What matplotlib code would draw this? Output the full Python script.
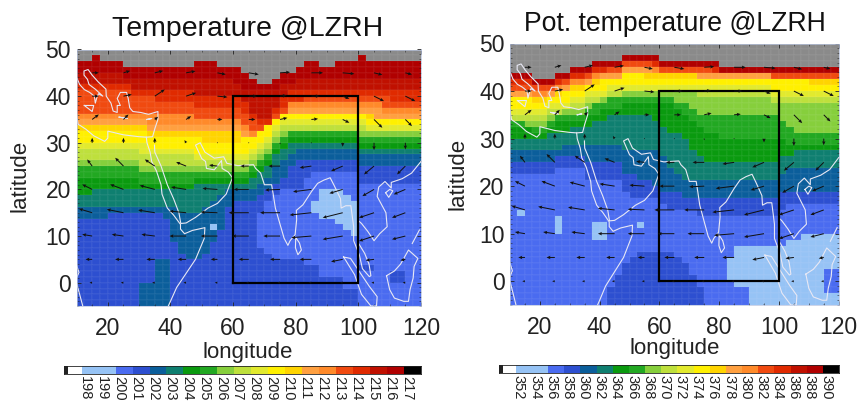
import matplotlib
matplotlib.use('Agg')
import matplotlib.pyplot as plt
from matplotlib.colors import ListedColormap
from matplotlib.ticker import MultipleLocator
import numpy as np

plt.rcParams['font.family'] = ['Liberation Sans', 'DejaVu Sans']

# band colours, cold to warm, same order in both colour bars
band_names = 'abcdefghijklmnopqrx'
band_colors = ['#96C3F5', '#4A6BF0', '#2D4FD0', '#0B5E9B', '#0F7F70', '#0A9A0F',
               '#22A822', '#86CF3C', '#BEE03C', '#E2EA2E', '#FFF000', '#FFD400',
               '#FFA040', '#FF8A2A', '#F04A10', '#E02A00', '#C01000', '#B00000',
               '#8A8A8A']
bar_bands = 'aabcdefghijklmnopqr'
levels_t = list(range(198, 218))
levels_th = list(range(352, 392, 2))

# Row where each band starts, per 2.5 deg column. Rows are 1.25 deg, counted from lat 50.
temp_tops = {
    'r': [2,2,1,2,2, 2,3,3,3,3, 3,3,3,3,3, 2,2,2,3,3, 3,4,5,6,6, 5,4,4,3,2, 2,3,3,2,2, 2,1,2,2,2, 2,2,2,2],
    'q': [4,4,4,4,4, 4,5,5,5,5, 5,5,5,5,5, 5,5,5,5,5, 6,7,7,7,7, 7,6,6,5,5, 5,5,5,5,5, 5,5,5,5,5, 5,5,5,5],
    'p': [6,6,6,6,6, 6,6,7,7,7, 7,7,7,7,7, 8,8,8,8,8, 8,9,11,12,12, 10,8,7,7,7, 7,7,7,7,7, 7,7,7,7,7, 7,7,7,7],
    'o': [7,7,7,7,7, 7,7,8,8,8, 9,9,9,9,9, 10,10,10,10,10, 10,11,12,13,13, 11,10,9,9,8, 8,8,8,8,8, 8,8,8,8,8, 9,9,9,9],
    'n': [11,11,11,11,11, 11,11,11,11,11, 11,11,11,11,11, 12,12,12,12,12, 12,13,14,14,14, 12,11,9,9,9, 9,9,9,9,9, 9,9,9,9,10, 10,10,10,10],
    'm': [12,12,12,12,12, 12,12,12,12,13, 13,13,13,13,13, 13,13,13,13,13, 13,14,15,15,14, 13,12,10,10,10, 10,10,10,10,10, 10,10,10,10,11, 11,11,11,11],
    'l': [13,13,13,13,13, 13,13,13,13,14, 14,14,14,14,14, 14,14,14,14,14, 14,15,16,15,15, 13,12,11,11,11, 11,11,11,11,11, 11,11,11,12,12, 12,12,12,12],
    'k': [14,14,14,14,14, 14,14,14,14,15, 15,15,15,15,15, 15,16,16,16,16, 16,15,15,14,13, 12,11,11,11,11, 11,11,11,11,11, 11,11,12,12,12, 12,12,12,12],
    'j': [16,16,16,16,16, 16,16,16,16,17, 17,17,17,17,17, 18,18,18,18,18, 18,18,17,16,15, 13,12,12,12,12, 12,12,12,12,12, 12,12,13,13,13, 13,13,13,13],
    'i': [17,17,17,17,17, 17,17,17,18,18, 18,18,18,18,18, 19,19,19,19,19, 19,19,18,17,16, 14,13,13,13,13, 13,13,13,13,13, 13,13,14,14,14, 14,14,14,14],
    'h': [19,19,19,19,19, 19,19,19,20,20, 20,20,20,20,20, 20,20,20,20,20, 20,20,19,18,17, 15,14,14,14,14, 14,14,14,14,14, 14,14,14,14,14, 14,14,14,14],
    'g': [20,20,20,20,20, 20,20,20,21,21, 21,21,21,21,21, 21,21,21,21,21, 21,21,20,19,18, 16,15,14,14,14, 14,14,14,14,14, 14,15,15,15,15, 15,15,15,15],
    'f': [22,22,22,22,22, 22,22,22,23,23, 23,23,23,23,23, 22,22,22,22,22, 22,22,21,20,19, 17,16,15,15,15, 15,15,15,15,15, 15,16,16,16,16, 16,16,16,16],
    'e': [25,25,24,24,24, 24,24,24,24,24, 24,24,24,24,24, 23,23,23,23,23, 23,23,22,21,20, 18,17,16,16,16, 16,16,16,16,16, 16,17,17,17,17, 17,17,17,17],
    'd': [27,27,27,27,27, 27,27,27,27,27, 27,27,27,28,28, 28,27,26,25,24, 24,24,24,23,22, 20,19,18,17,17, 17,17,17,17,17, 17,18,18,18,18, 18,18,18,18],
    'c': [29,29,29,29,28, 28,28,28,28,28, 28,29,33,35,36, 36,35,33,31,27, 26,26,26,25,24, 23,22,20,19,19, 19,19,19,19,19, 19,20,20,20,20, 20,20,20,20],
    'b': [99,99,99,99,99, 99,99,99,99,99, 99,99,99,99,99, 99,99,99,99,99, 99,99,99,28,26, 25,24,24,24,22, 21,21,21,21,21, 21,23,23,23,23, 23,23,23,23],
}
temp_low = [99,99,99,99,99, 99,99,99,99,99, 99,99,99,99,99, 99,99,99,99,99, 99,99,99,34,35, 36,36,36,36,37, 37,39,39,39,41, 41,99,99,99,99, 99,99,99,99]
temp_patches = [('d', 10, 12, 36, 40), ('d', 8, 12, 40, 44), ('a', 17, 18, 30, 31),
                ('a', 30, 31, 26, 28), ('a', 31, 34, 24, 29), ('a', 33, 34, 29, 30),
                ('a', 34, 35, 25, 31), ('a', 35, 36, 26, 32),
                ('c', 36, 38, 37, 38), ('c', 40, 42, 38, 40)]

theta_tops = {
    'r': [5,5,5,6,6, 6,5,5,4,4, 4,3,3,3,3, 2,2,2,2,2, 3,3,3,3,3, 3,3,3,4,4, 4,4,4,4,4, 4,4,4,4,4, 4,4,4,4],
    'p': [6,6,6,7,7, 7,6,6,5,5, 5,4,4,4,4, 3,3,3,3,3, 4,4,4,4,4, 4,4,4,5,5, 5,5,5,5,5, 5,5,5,5,5, 5,5,5,5],
    'o': [7,7,7,7,7, 7,7,6,6,6, 5,5,5,4,4, 3,3,3,3,4, 4,4,4,4,4, 4,4,5,5,5, 5,5,5,5,5, 5,5,5,5,5, 5,5,5,5],
    'n': [8,8,8,8,8, 8,7,7,6,6, 6,5,5,5,5, 4,4,4,4,4, 5,5,5,5,5, 5,5,5,5,5, 5,5,5,5,5, 6,6,6,6,6, 6,6,6,6],
    'm': [8,8,8,9,9, 8,8,7,7,7, 6,6,5,5,5, 4,4,4,4,5, 5,5,5,5,5, 5,5,5,5,5, 5,5,5,5,5, 6,6,6,6,6, 6,6,6,6],
    'l': [9,9,9,9,9, 9,8,8,7,7, 7,6,6,6,6, 5,5,5,5,5, 5,5,5,5,5, 6,6,6,6,6, 6,6,6,6,6, 6,6,6,6,6, 6,6,6,6],
    'k': [9,9,9,10,10, 9,9,8,8,8, 7,7,6,6,6, 5,5,5,6,6, 6,6,6,6,6, 6,6,6,6,6, 6,6,6,6,6, 6,6,6,6,6, 7,7,7,7],
    'j': [11,11,11,11,11, 10,10,10,9,9, 8,8,8,7,7, 7,7,7,7,7, 7,7,7,7,7, 7,7,7,7,7, 7,7,7,7,7, 8,8,8,8,8, 8,8,8,8],
    'i': [12,12,12,12,12, 11,11,11,10,10, 9,9,9,8,8, 8,8,8,8,8, 8,8,8,8,8, 8,8,8,8,8, 8,8,8,8,8, 9,9,9,9,9, 9,9,9,9],
    'h': [13,13,13,13,13, 12,12,11,11,11, 10,10,9,9,9, 8,8,8,8,8, 8,8,8,8,8, 9,9,9,9,9, 9,9,9,9,9, 10,10,10,10,10, 10,10,10,10],
    'g': [13,13,14,14,14, 13,12,12,12,12, 11,10,10,9,9, 9,9,9,9,9, 9,9,10,10,11, 12,12,12,12,12, 12,12,12,12,12, 12,13,14,15,15, 15,15,15,15],
    'f': [14,14,14,15,15, 14,13,13,13,13, 12,12,11,11,11, 10,10,10,10,10, 10,10,11,12,13, 14,15,15,16,16, 16,16,16,16,16, 16,16,17,17,17, 17,17,17,17],
    'e': [16,16,16,16,16, 15,15,15,14,14, 14,13,13,12,12, 12,12,12,12,13, 14,15,15,16,18, 19,20,20,20,20, 20,20,20,20,20, 20,19,19,18,18, 18,18,18,18],
    'd': [18,18,18,18,18, 18,18,17,17,17, 17,17,17,17,17, 18,18,18,18,18, 19,21,22,23,23, 23,23,23,23,23, 23,23,23,23,23, 23,22,21,21,21, 21,21,21,21],
    'c': [20,20,20,20,20, 20,19,19,19,19, 20,20,20,20,20, 22,22,23,23,24, 25,25,25,26,26, 26,26,26,26,26, 26,26,26,26,26, 26,25,25,25,25, 25,25,25,25],
    'b': [22,22,22,22,22, 22,21,21,21,21, 23,23,23,23,23, 25,26,26,26,26, 27,28,28,28,28, 29,29,29,29,29, 29,29,29,29,29, 29,28,27,27,27, 27,27,27,27],
    'a': [99,99,99,99,99, 99,99,99,99,99, 99,99,99,99,99, 99,99,99,99,99, 99,99,99,99,99, 99,99,99,99,36, 34,34,34,34,34, 34,34,33,33,32, 32,32,32,32],
}
theta_low = [99,99,99,99,99, 99,99,99,99,99, 99,99,99,41,39, 37,36,35,35,35, 35,35,36,37,39, 41,99,99,99,99, 99,99,99,99,99, 99,99,99,99,99, 99,99,99,99]
theta_patches = [('b', 29, 30, 40, 44), ('b', 30, 32, 41, 44), ('b', 42, 44, 38, 42),
                 ('a', 1, 2, 28, 29), ('a', 6, 7, 29, 32), ('a', 11, 13, 30, 33),
                 ('a', 17, 18, 30, 31)]

# wind arrows, 10 deg apart, in reference pixels
wind_lons = [15, 25, 35, 45, 55, 65, 75, 85, 95, 105, 115]
wind_lats = [50, 45, 40, 35, 30, 25, 20, 15, 10, 5, 0, -5]
wind_u = [[2, 2, 3, 3, 3, 4, 4, 4, 4, 3, 2],
          [20, 20, 25, 28, 25, 30, 30, 35, 35, 25, 20],
          [20, 25, 30, 30, 30, 25, 20, 25, 20, 30, 30],
          [20, 15, 10, 15, 15, 20, 22, 20, 20, 25, 20],
          [0, 0, 0, -5, 2, 2, 0, 0, 0, 0, 0],
          [-15, -25, -30, -30, -25, -25, -35, -35, -35, -30, -25],
          [-30, -40, -45, -45, -45, -45, -45, -55, -40, -35, -35],
          [-40, -50, -50, -50, -50, -60, -60, -65, -60, -45, -40],
          [-30, -35, -40, -50, -50, -50, -50, -60, -60, -45, -40],
          [-20, -25, -25, -25, -20, -30, -30, -35, -35, -25, -15],
          [-8, -8, -8, -8, -8, -8, -8, -8, -8, -8, -8],
          [-3, -3, -3, -3, -3, -3, -3, -3, -3, -3, -3]]
wind_v = [[0, 0, 0, 0, 0, 0, 0, 0, 0, 0, 0],
          [0, 6, 6, 5, -5, -5, 2, 0, -3, -6, -5],
          [0, 5, 20, 10, -3, 0, 2, 0, -8, -15, -15],
          [15, 15, 8, 10, 0, 0, 5, 2, -10, -25, -20],
          [15, 15, 15, 8, 0, 0, -5, 0, -12, -22, -20],
          [20, 25, 20, 12, 3, 0, 0, -5, -15, -25, -25],
          [15, 15, 12, 7, 3, 0, -2, -7, -12, -20, -15],
          [12, 10, 8, 5, 2, 0, 0, -7, -15, -15, -15],
          [5, 5, 5, 0, 0, 0, 0, -5, -10, -15, -10],
          [0, 0, 0, 0, 0, 0, 0, 0, -7, -3, -3],
          [0, 0, 0, 0, 0, 0, 0, 0, 0, 0, 0],
          [0, 0, 0, 0, 0, 0, 0, 0, 0, 0, 0]]

# coastlines (lon, lat)
coast_lines = [
    [(10.2, 43.8), (11, 42.5), (12.5, 41.4), (14.2, 40.8), (15.7, 40), (16, 38.5), (16.5, 39.7), (17, 40.5),
     (18.4, 40), (16, 41.5), (14, 42.5), (13.5, 43.6), (12.4, 44.5), (12.4, 45.4), (13.7, 45.7), (15, 44.5),
     (17, 43), (19.4, 41.5), (19.5, 40), (21, 38.5), (21.7, 36.8), (23, 36.5), (23, 38), (24, 38), (23, 39.5),
     (24, 40.8), (26, 40.8), (26.5, 39.5), (27, 37.5), (28, 36.7), (30.5, 36.5), (33, 36.1), (36, 36.7), (36, 35),
     (35, 33), (34.3, 31.3), (32.3, 31.2), (30, 31.3), (25, 31.7), (20, 32.5), (20, 31), (19, 30.3), (15.5, 31.5),
     (13, 32.9), (10.5, 34), (10, 36)],
    [(12.5, 38), (15.5, 38), (15, 36.7), (12.5, 38)],
    [(23.6, 35.5), (26.2, 35.2), (23.6, 35.5)],
    [(32.5, 35), (34, 35.2), (32.5, 35)],
    [(32.3, 31.2), (32.5, 30), (33.5, 28), (34, 26), (35.5, 24), (37, 21), (37.3, 19), (39, 16), (41, 14.5),
     (43.2, 12.5), (43.2, 11.5), (44.5, 10.5), (47, 11.2), (51, 11.8), (50.8, 9.5), (48, 5), (45, 2), (42, -1),
     (40, -4), (39.3, -5)],
    [(34.9, 29.5), (35, 28), (37, 25), (39, 21), (41, 18), (42.7, 15), (43.3, 12.7), (45, 12.8), (48, 14), (52, 16),
     (55, 17), (57.8, 19), (59.8, 22.5), (58.5, 23.7), (56.5, 24.5), (56.3, 26.2), (54, 24.2), (51.5, 24.5),
     (51.2, 26), (50, 26.6), (48, 29.5), (49.5, 30), (51, 28), (54, 26.7), (57, 27), (58, 25.6), (61.5, 25.1),
     (66.5, 25.3), (67.2, 24.5), (68.8, 23.5), (70, 21), (72.3, 21), (72.8, 19), (73.5, 16), (75, 12.5), (76.3, 9.5),
     (77.5, 8), (78.2, 9), (79.8, 10.3), (80.3, 13.5), (80.2, 15.5), (82.3, 16.7), (85, 19.5), (87, 21.3), (89, 22),
     (91, 22.5), (92.3, 20.8), (94.3, 18), (94.5, 16), (96, 16.5), (97.6, 16.5), (98.5, 12), (98.5, 9), (100.3, 6),
     (101.3, 3), (103.5, 1.3), (104, 1.5), (103.4, 4), (102, 6.3), (100, 8.5), (100, 13.3), (101, 12.7), (103, 11),
     (105, 9), (106.8, 10.5), (109.2, 12), (108.8, 15), (106, 18.5), (106.5, 20.5), (108.5, 21.7), (110.5, 20.3),
     (110.5, 21.5), (114, 22.3), (117, 23.5), (120, 26)],
    [(80, 9.7), (81.2, 8.5), (81.8, 7), (80.7, 6), (79.9, 7.5), (80, 9.7)],
    [(95.3, 5.5), (97.5, 5.2), (100.5, 2.2), (103.5, -0.8), (106, -3), (105.8, -5), (104, -5), (101, -2.5),
     (98.8, 1.7), (95.3, 5.5)],
    [(109, 1.5), (111.5, 2.5), (113.5, 4), (116, 7), (119, 5.2), (117.8, 3.5), (117.5, 1), (116.5, -1.5), (116, -4),
     (114.5, -4), (111.5, -3.3), (110, -1.5), (109, 1.5)],
    [(108.7, 19.3), (110, 20), (111, 19.7), (109.7, 18.3), (108.7, 19.3)],
    [(117.2, 8.4), (119.5, 11.3)],
    [(120, 16), (120, 18)],
    [(10, 3.8), (10.8, 2.2), (10, 1), (10, 0), (11, -2.5), (12, -5)],
]

W, H = 857, 405
lon_edges = np.arange(10, 120.1, 2.5)
lat_edges = np.arange(50, -5.1, -1.25)
cmap = ListedColormap(band_colors)


def px_axes(x0, x1, y0, y1):
    return fig.add_axes([x0 / W, 1 - y1 / H, (x1 - x0) / W, (y1 - y0) / H])


def build_field(tops, low, patches):
    field = np.full((44, 44), band_names.index('x'))
    for name, top in tops.items():
        for c in range(44):
            field[top[c]:, c] = band_names.index(name)
    for c in range(44):
        field[low[c]:, c] = band_names.index('c')
    for name, c0, c1, r0, r1 in patches:
        field[r0:r1, c0:c1] = band_names.index(name)
    return field


def draw_map(ax, field):
    ax.pcolormesh(lon_edges, lat_edges, field, cmap=cmap, vmin=-0.5, vmax=18.5,
                  edgecolors=(1, 1, 1, 0.03), linewidth=0.2)
    for line in coast_lines:
        ax.plot([p[0] for p in line], [p[1] for p in line], color='#E8E8F4', lw=0.8)
    ax.plot([60, 100, 100, 60, 60], [0, 0, 40, 40, 0], color='black', lw=1.6, solid_joinstyle='miter')
    lon_grid, lat_grid = np.meshgrid(wind_lons, wind_lats)
    ax.quiver(lon_grid, lat_grid, wind_u, wind_v, angles='uv', scale_units='dots', scale=3,
              pivot='tail', width=1.0, units='dots', headwidth=3.5, headlength=4, headaxislength=3.5,
              color='#111111', zorder=3)
    ax.set_xlim(10, 120)
    ax.set_ylim(-5, 50)
    ax.xaxis.set_major_locator(MultipleLocator(20))
    ax.xaxis.set_minor_locator(MultipleLocator(5))
    ax.yaxis.set_major_locator(MultipleLocator(10))
    ax.yaxis.set_minor_locator(MultipleLocator(1))
    ax.set_xticks(range(20, 121, 20))
    ax.set_yticks(range(0, 51, 10))
    ax.tick_params(which='major', direction='in', top=True, right=True, length=3, width=0.6,
                   labelsize=16.5, colors='#222222')
    ax.tick_params(which='minor', direction='in', top=True, right=True, length=1.5, width=0.4, colors='#222222')
    ax.tick_params(axis='x', pad=8)
    ax.tick_params(axis='y', pad=4)
    for s in ax.spines.values():
        s.set_color('#B8C4E0')
        s.set_linewidth(0.5)


def draw_bar(ax, levels, lo, hi):
    step = levels[1] - levels[0]
    edges = [lo, levels[0] - 0.8 * step] + list(levels) + [hi]
    colors = ['#222222', 'white'] + [band_colors[band_names.index(b)] for b in bar_bands] + ['black']
    ax.pcolormesh(edges, [0, 1], np.arange(len(colors))[None, :], cmap=ListedColormap(colors),
                  vmin=-0.5, vmax=len(colors) - 0.5)
    ax.set_xlim(lo, hi)
    ax.set_ylim(0, 1)
    ax.set_xticks([])
    ax.set_yticks([])
    for s in ax.spines.values():
        s.set_color('#222222')
        s.set_linewidth(0.6)
    for lev in levels:
        ax.text(lev + 0.2 * step, -0.25, str(lev), rotation=270, ha='center', va='top',
                fontsize=10.5, color='#222222')


fig = plt.figure(figsize=(W / 100, H / 100), dpi=100)

ax1 = px_axes(76.5, 421, 49.5, 306)
draw_map(ax1, build_field(temp_tops, temp_low, temp_patches))
ax2 = px_axes(510, 838.7, 43.5, 305)
draw_map(ax2, build_field(theta_tops, theta_low, theta_patches))

draw_bar(px_axes(64, 421, 365.7, 374), levels_t, 196.96, 218)
draw_bar(px_axes(499, 839, 365, 373), levels_th, 349.93, 392)

# text sits at fixed spots in the reference
fig.text(248 / W, 1 - 29 / H, 'Temperature @LZRH', fontsize=20.5, ha='center', va='center', color='#111111')
fig.text(675 / W, 1 - 24 / H, 'Pot. temperature @LZRH', fontsize=19.2, ha='center', va='center', color='#111111')
fig.text(248 / W, 1 - 352.5 / H, 'longitude', fontsize=16, ha='center', va='center', color='#222222')
fig.text(675 / W, 1 - 348.5 / H, 'longitude', fontsize=16, ha='center', va='center', color='#222222')
fig.text(20 / W, 1 - 176 / H, 'latitude', fontsize=16, rotation=90, ha='center', va='center', color='#222222')
fig.text(458 / W, 1 - 174 / H, 'latitude', fontsize=16, rotation=90, ha='center', va='center', color='#222222')

fig.savefig('out.png', dpi=100)
